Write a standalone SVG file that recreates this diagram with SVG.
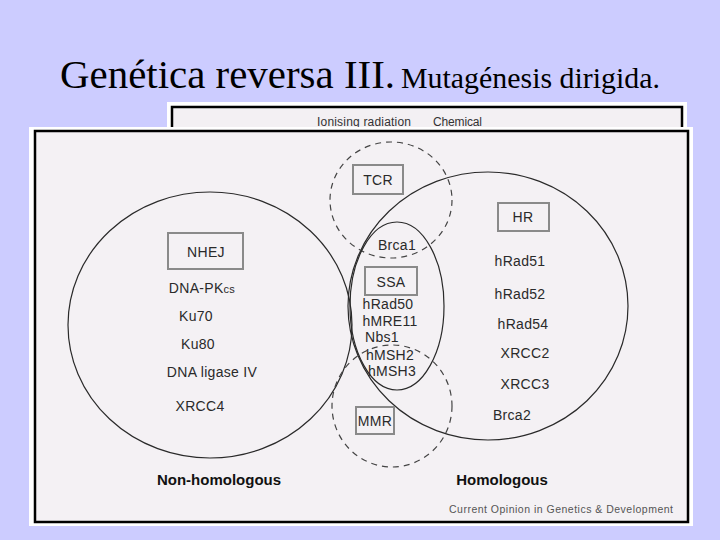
<svg xmlns="http://www.w3.org/2000/svg" width="720" height="540" viewBox="0 0 720 540">
<style>
.title{font-family:"Liberation Serif","Times New Roman",serif;fill:#000}
.t{font-family:"Liberation Sans",Arial,sans-serif;font-size:14px;fill:#2a2a2a;text-anchor:middle;letter-spacing:0.3px}
.b{font-family:"Liberation Sans",Arial,sans-serif;font-size:15px;font-weight:bold;fill:#111;text-anchor:middle}
.solid{fill:none;stroke:#2a2a2a;stroke-width:1.2}
.dash{fill:none;stroke:#444;stroke-width:1.2;stroke-dasharray:6,5}
.box{fill:none;stroke:#8a8a8a;stroke-width:2}
</style>
<rect width="720" height="540" fill="#ccccff"/>
<text class="title" x="60" y="88" font-size="40" textLength="335" lengthAdjust="spacingAndGlyphs">Genética reversa III.</text>
<text class="title" x="401" y="88" font-size="30" textLength="259" lengthAdjust="spacingAndGlyphs">Mutagénesis dirigida.</text>

<g id="back-image">
<rect x="167" y="102" width="520" height="40" fill="#ffffff"/>
<rect x="172" y="107" width="510" height="35" fill="#f3f0f3" stroke="#000" stroke-width="2.5"/>
<text x="317" y="126" font-family="'Liberation Sans',Arial,sans-serif" font-size="12" fill="#333" textLength="94">Ionising radiation</text>
<text x="433" y="126" font-family="'Liberation Sans',Arial,sans-serif" font-size="12" fill="#333" textLength="49">Chemical</text>
</g>

<g id="front-image">
<rect x="29" y="127" width="664" height="399" fill="#ffffff"/>
<rect x="35" y="131" width="653" height="391" fill="#f4f1f4" stroke="#000" stroke-width="2.5"/>
</g>

<g id="nhej">
<ellipse class="solid" cx="210" cy="325" rx="142" ry="133"/>
<rect class="box" x="168" y="233" width="75" height="36"/>
<text class="t" x="206" y="257">NHEJ</text>
<text class="t" x="202" y="293">DNA-PK<tspan font-size="11">cs</tspan></text>
<text class="t" x="196" y="321">Ku70</text>
<text class="t" x="198" y="349">Ku80</text>
<text class="t" x="212" y="377">DNA ligase IV</text>
<text class="t" x="200" y="411">XRCC4</text>
<text class="b" x="219" y="485">Non-homologous</text>
</g>

<g id="hr">
<ellipse class="solid" cx="488" cy="306" rx="140" ry="134"/>
<rect class="box" x="498" y="203" width="51" height="28"/>
<text class="t" x="523" y="222">HR</text>
<text class="t" x="520" y="266">hRad51</text>
<text class="t" x="520" y="299">hRad52</text>
<text class="t" x="523" y="329">hRad54</text>
<text class="t" x="525" y="358">XRCC2</text>
<text class="t" x="525" y="389">XRCC3</text>
<text class="t" x="512" y="420">Brca2</text>
<text class="b" x="502" y="485">Homologous</text>
</g>

<g id="tcr">
<ellipse class="dash" cx="391" cy="200" rx="61" ry="58"/>
<rect class="box" x="353" y="165" width="50" height="29"/>
<text class="t" x="378" y="185">TCR</text>
</g>

<g id="ssa">
<ellipse class="solid" cx="397" cy="306" rx="47" ry="84"/>
<text class="t" x="397" y="250">Brca1</text>
<rect class="box" x="365" y="267" width="52" height="28"/>
<text class="t" x="391" y="287">SSA</text>
<text class="t" x="388" y="309">hRad50</text>
<text class="t" x="390" y="326">hMRE11</text>
<text class="t" x="382" y="342">Nbs1</text>
<text class="t" x="390" y="360">hMSH2</text>
<text class="t" x="392" y="376">hMSH3</text>
</g>

<g id="mmr">
<ellipse class="dash" cx="392" cy="406" rx="60" ry="61"/>
<rect class="box" x="356" y="407" width="38" height="27"/>
<text class="t" x="375" y="426" letter-spacing="0">MMR</text>
</g>

<g id="connectors"></g>

<text x="561" y="513" font-family="'Liberation Sans',Arial,sans-serif" font-size="10.5" fill="#555" text-anchor="middle" textLength="224">Current Opinion in Genetics &amp; Development</text>
</svg>
